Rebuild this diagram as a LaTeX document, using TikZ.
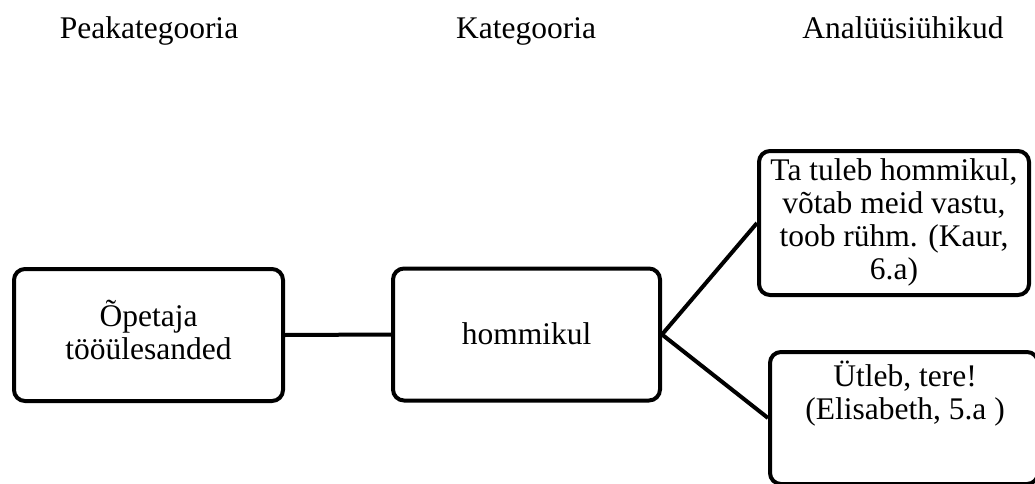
\documentclass[tikz,border=0pt]{standalone}
\usepackage{fontspec}
\setmainfont{Liberation Serif}
\begin{document}
\begin{tikzpicture}[x=1pt,y=-1pt,
  box/.style={draw=black, line width=4pt, rounded corners=11pt, inner sep=0pt},
  txt/.style={inner sep=0pt, align=center, font=\fontsize{31.5}{33}\selectfont},
  head/.style={inner sep=0pt, anchor=base, font=\fontsize{31.5}{33}\selectfont},
  link/.style={draw=black, line width=4pt}]
\useasboundingbox (0,0) rectangle (1035,484);
\fill[white] (0,0) rectangle (1035,484);
\clip (0,0) rectangle (1035,484);
% headings
\node[head] (h1) at (149,39) {Peakategooria};
\node[head] (h2) at (526,39) {Kategooria};
\node[head] (h3) at (903,39) {Analüüsiühikud};
% boxes
\node[box, minimum width=269pt, minimum height=132pt] (b1) at (148.5,335) {};
\node[box, minimum width=267pt, minimum height=132pt] (b2) at (526.5,334.5) {};
\node[box, minimum width=270pt, minimum height=144pt] (b3) at (894,223) {};
\node[box, minimum width=268pt, minimum height=132pt] (b4) at (904,418) {};
% texts
\node[txt] (t1) at (148.5,330) {Õpetaja\\tööülesanded};
\node[txt] (t2) at (526.5,334) {hommikul};
\node[txt] (t3) at (894,222.5) {Ta tuleb hommikul,\\võtab meid vastu,\\toob rühm. (Kaur,\\6.a)};
\node[txt] (t4) at (905,394) {Ütleb, tere!\\(Elisabeth, 5.a )};
% connectors
\draw[link] (b1.east) -- (b2.west);
\draw[link] (b2.east) -- (b3.west);
\draw[link] (b2.east) -- (b4.west);
\end{tikzpicture}
\end{document}
